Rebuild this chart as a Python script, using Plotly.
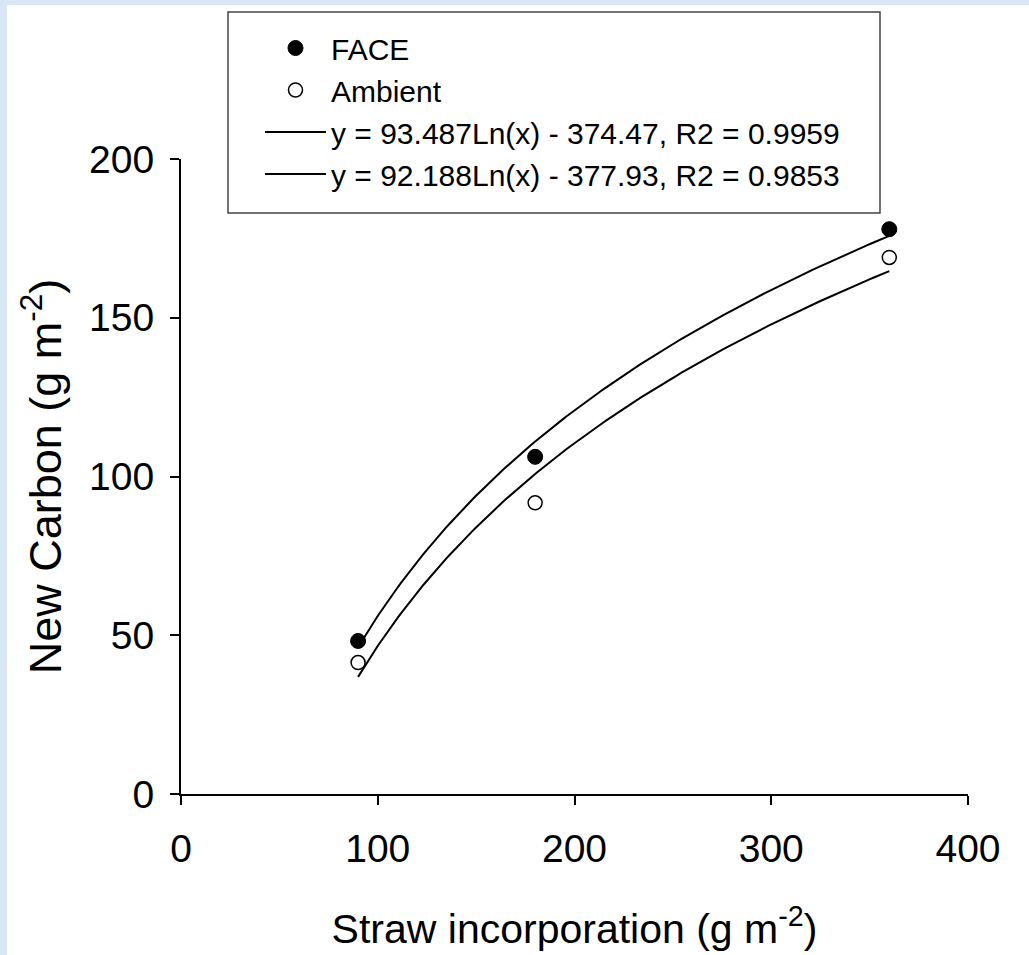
import numpy as np
import plotly.graph_objects as go

# ---- data ----
straw = [90, 180, 360]                 # Straw incorporation (g m-2)
face_carbon = [48.2, 106.2, 177.9]     # FACE new carbon (g m-2)
ambient_carbon = [41.4, 91.7, 169.0]   # Ambient new carbon (g m-2)

# logarithmic fits stated in the legend: y = a*Ln(x) + b
face_fit = [93.487, -374.47]
ambient_fit = [92.188, -377.93]
face_fit_label = "y = 93.487Ln(x) - 374.47, R2 = 0.9959"
ambient_fit_label = "y = 92.188Ln(x) - 377.93, R2 = 0.9853"

x_ticks = [0, 100, 200, 300, 400]
y_ticks = [0, 50, 100, 150, 200]

FONT = "Liberation Sans, Arial, Helvetica, sans-serif"

# ---- layout geometry (pixels) ----
W, H = 1029, 955
L, R, T, B = 181, 61, 159, 161
PW, PH = W - L - R, H - T - B

def px_x(p):
    return (p - L) / PW

def px_y(p):
    return (H - B - p) / PH

xfit = np.linspace(min(straw), max(straw), 200)

fig = go.Figure()
fig.add_trace(go.Scatter(
    x=straw, y=face_carbon, mode="markers", name="FACE",
    marker=dict(symbol="circle", size=15, color="black", line=dict(color="black", width=1)),
    legendgroup="a"))
fig.add_trace(go.Scatter(
    x=straw, y=ambient_carbon, mode="markers", name="Ambient",
    marker=dict(symbol="circle", size=14, color="white", line=dict(color="black", width=1.5)),
    legendgroup="b"))
fig.add_trace(go.Scatter(
    x=xfit, y=face_fit[0] * np.log(xfit) + face_fit[1], mode="lines",
    name=face_fit_label, line=dict(color="black", width=2), legendgroup="c"))
fig.add_trace(go.Scatter(
    x=xfit, y=ambient_fit[0] * np.log(xfit) + ambient_fit[1], mode="lines",
    name=ambient_fit_label, line=dict(color="black", width=2), legendgroup="d"))

axis_common = dict(
    showline=True, linecolor="black", linewidth=2,
    ticks="outside", ticklen=9, tickwidth=1.5, tickcolor="black",
    showgrid=False, zeroline=False,
    tickfont=dict(family=FONT, size=39, color="black"),
)

fig.update_layout(
    width=W, height=H,
    margin=dict(l=L, r=R, t=T, b=B, pad=0),
    paper_bgcolor="white", plot_bgcolor="white",
    font=dict(family=FONT, color="black"),
    xaxis=dict(range=[0, 400], tickvals=x_ticks, **axis_common, ticklabelstandoff=10,
               title=dict(text="Straw incorporation (g m<sup>-2</sup>)",
                          font=dict(family=FONT, size=41, color="black"), standoff=46)),
    yaxis=dict(range=[0, 200], tickvals=y_ticks, **axis_common, ticklabelstandoff=8,
               title=dict(text="New Carbon (g m<sup>-2</sup>)",
                          font=dict(family=FONT, size=45, color="black"), standoff=13)),
    showlegend=True,
    legend=dict(
        x=px_x(260), y=px_y(22), xanchor="left", yanchor="top",
        bgcolor="rgba(0,0,0,0)", borderwidth=0,
        font=dict(family=FONT, size=30, color="black"),
        traceorder="grouped", tracegroupgap=0, itemwidth=61,
    ),
    shapes=[
        dict(type="rect", xref="paper", yref="paper", layer="below",
             x0=px_x(0), x1=px_x(7), y0=px_y(H), y1=px_y(0),
             fillcolor="#d9e6f4", line=dict(width=0)),
        dict(type="rect", xref="paper", yref="paper", layer="below",
             x0=px_x(0), x1=px_x(W), y0=px_y(5), y1=px_y(0),
             fillcolor="#d9e6f4", line=dict(width=0)),
        dict(type="rect", xref="paper", yref="paper", layer="above",
             x0=px_x(228), x1=px_x(880), y0=px_y(213), y1=px_y(12),
             fillcolor="rgba(0,0,0,0)", line=dict(color="#444", width=1.5)),
    ],
)

fig.write_html("out.html", config={"displayModeBar": False},
               post_script="document.body.style.margin='0px';")
